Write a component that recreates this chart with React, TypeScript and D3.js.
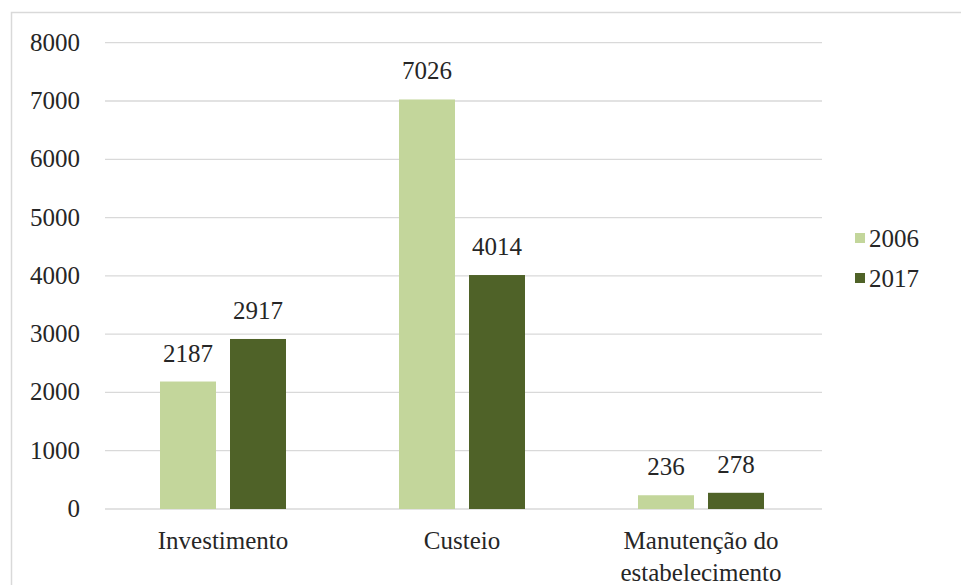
import React from "react";
import * as d3 from "d3";

const categories = ["Investimento", "Custeio", "Manutenção do estabelecimento"];
const categoryLines = [["Investimento"], ["Custeio"], ["Manutenção do", "estabelecimento"]];
const series = ["2006", "2017"];
const values2006 = [2187, 7026, 236];
const values2017 = [2917, 4014, 278];
const yTicks = [0, 1000, 2000, 3000, 4000, 5000, 6000, 7000, 8000];
const colors = ["#c3d69b", "#4f6228"];

const W = 961;
const H = 585;
const plotLeft = 105;
const plotRight = 822;
const plotTop = 42.7;
const plotBottom = 509;
const FONT = "Liberation Serif, Tinos, Times New Roman, DejaVu Serif, serif";
const FS = 25;

const textStyle: React.CSSProperties = { fontFamily: FONT, fontSize: FS };

export default function App() {
  const y = d3.scaleLinear().domain([0, 8000]).range([plotBottom, plotTop]);
  const x0 = d3.scaleBand<string>().domain(categories).range([plotLeft, plotRight]).paddingInner(0).paddingOuter(0);
  const x1 = d3.scaleBand<string>().domain(series).range([0, 126]).paddingInner(0.2);
  const seriesVals = [values2006, values2017];

  return (
    <svg width={W} height={H} style={{ position: "absolute", left: 0, top: 0, background: "#fff" }}>
      <rect x={11.5} y={12.5} width={W + 10} height={H + 10} fill="#fff" stroke="#d9d9d9" strokeWidth={1.5} />
      {yTicks.map((t) => (
        <g key={t}>
          <line x1={plotLeft} x2={plotRight} y1={y(t)} y2={y(t)} stroke="#d9d9d9" strokeWidth={1.3} />
          <text x={80} y={y(t) + 8} textAnchor="end" style={textStyle} fill="#262626">
            {t}
          </text>
        </g>
      ))}
      {categories.map((c, ci) => {
        const cx = (x0(c) as number) + x0.bandwidth() / 2 - 1.5;
        const gx = cx - 63;
        return (
          <g key={c}>
            {series.map((s, si) => {
              const v = seriesVals[si][ci];
              const bx = gx + (x1(s) as number);
              const bw = x1.bandwidth();
              return (
                <g key={s}>
                  <rect x={bx} y={y(v)} width={bw} height={y(0) - y(v)} fill={colors[si]} />
                  <text x={bx + bw / 2} y={y(v) - 20} textAnchor="middle" style={textStyle} fill="#262626">
                    {v}
                  </text>
                </g>
              );
            })}
            {categoryLines[ci].map((ln, li) => (
              <text
                key={li}
                x={cx}
                y={549 + li * 32}
                textAnchor="middle"
                style={textStyle}
                fill="#262626"
              >
                {ln}
              </text>
            ))}
          </g>
        );
      })}
      {series.map((s, si) => (
        <g key={s} transform={`translate(855, ${233 + si * 40})`}>
          <rect x={0} y={0} width={10} height={10} fill={colors[si]} />
          <text x={14} y={14} style={textStyle} fill="#262626">
            {s}
          </text>
        </g>
      ))}
    </svg>
  );
}
